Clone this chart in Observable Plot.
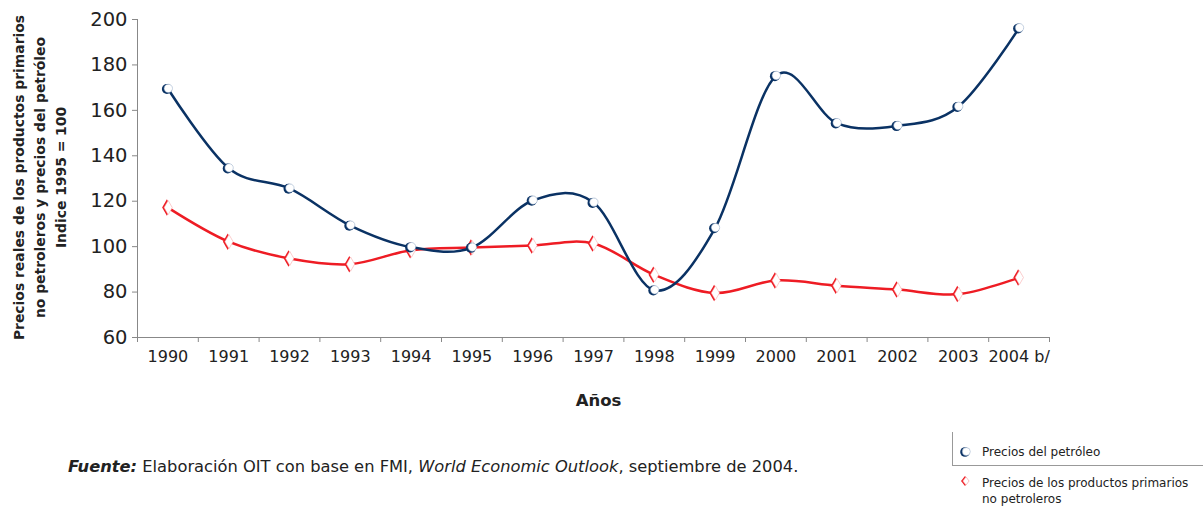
<!DOCTYPE html>
<html><head><meta charset="utf-8">
<script src="https://cdn.jsdelivr.net/npm/d3@7"></script>
<script src="https://cdn.jsdelivr.net/npm/@observablehq/plot@0.6"></script>
<style>
body{margin:0;background:#fff;font-family:"DejaVu Sans",Verdana,sans-serif;}
#wrap{position:relative;width:1203px;height:506px;overflow:hidden;}
#src{position:absolute;left:68px;top:457px;font-size:16.3px;color:#222;white-space:nowrap;}
#leg{position:absolute;left:952px;top:432px;width:260px;height:33px;border-left:1px solid #999;border-bottom:1px solid #999;}
.li{position:absolute;font-size:12px;color:#222;line-height:16px;}
</style></head>
<body><div id="wrap">
<div id="chart"></div>
<div id="src"><b><i>Fuente:</i></b> Elaboración OIT con base en FMI, <i>World Economic Outlook</i>, septiembre de 2004.</div>
<div id="leg"></div>
<svg style="position:absolute;left:958px;top:444px" width="18" height="48">
<circle cx="7" cy="8" r="4.8" fill="#0a3264"/><circle cx="8.3" cy="7.6" r="4" fill="#fff" stroke="#8ea6c4" stroke-width="0.5"/>
<path d="M3,37 L7,32 L11,37 L7,42 Z" fill="#ee1c24"/><path d="M4.8,37 L8,33 L11.2,37 L8,41 Z" fill="#fff" stroke="#f7a0a0" stroke-width="0.5"/>
</svg>
<div class="li" style="left:982px;top:444px">Precios del petróleo</div>
<div class="li" style="left:982px;top:475px">Precios de los productos primarios<br>no petroleros</div>
</div>
<script>
const years = [1990,1991,1992,1993,1994,1995,1996,1997,1998,1999,2000,2001,2002,2003,2004];
const yearLabels = ["1990","1991","1992","1993","1994","1995","1996","1997","1998","1999","2000","2001","2002","2003","2004 b/"];
const oil = [169.5,134.5,125.6,109.3,99.8,99.6,120.3,119.4,80.8,108.2,175.2,154.4,153.2,161.6,196.2];
const nonOil = [117.2,102.2,94.8,92.3,98.4,99.6,100.5,101.4,87.6,79.6,85.1,82.8,81.1,79.1,86.4];
const yTicks = [60,80,100,120,140,160,180,200];
const yTitle = "Precios reales de los productos primarios\nno petroleros y precios del petróleo\nIndice 1995 = 100";
const navy = "#0a3264", red = "#ee1c24";

const oilData = years.map((y,i)=>({year:y, v:oil[i]}));
const nonData = years.map((y,i)=>({year:y, v:nonOil[i]}));
const edges = [...years.map(y=>y-0.5), years[years.length-1]+0.5];

const chart = Plot.plot({
  width: 1203, height: 506,
  marginLeft: 137, marginRight: 154, marginTop: 19, marginBottom: 169,
  style: {fontFamily: "DejaVu Sans, Verdana, sans-serif", color: "#222", background: "transparent"},
  x: {type: "linear", domain: [1989.5, 2004.5], label: null},
  y: {domain: [60, 200], label: null},
  marks: [
    Plot.ruleY([60], {stroke: "#888"}),
    Plot.ruleX([1989.5], {stroke: "#888"}),
    Plot.axisX({ticks: edges, tickSize: 5, tickFormat: () => "", stroke: "#888", label: null}),
    Plot.axisX({ticks: years, tickSize: 0, tickPadding: 13, fontSize: 16, tickFormat: d => yearLabels[years.indexOf(d)], label: null}),
    Plot.axisY({ticks: yTicks, tickSize: 5, tickPadding: 5, fontSize: 19.5, stroke: "#888", label: null}),
    Plot.text([yTitle], {frameAnchor: "left", textAnchor: "middle", dx: -99, dy: -1, rotate: -90, fontWeight: "bold", fontSize: 13.9, lineHeight: 1.5, fill: "#222"}),
    Plot.text(["Años"], {frameAnchor: "bottom", dy: 68, dx: 5, fontWeight: "bold", fontSize: 16.5, fill: "#222"}),
    Plot.line(nonData, {x: "year", y: "v", stroke: red, strokeWidth: 2.5, curve: "cardinal", tension: 0}),
    Plot.line(oilData, {x: "year", y: "v", stroke: navy, strokeWidth: 2.5, curve: "cardinal", tension: 0}),
    Plot.dot(nonData, {x: "year", y: "v", symbol: "diamond", r: 5, fill: red, dx: -1}),
    Plot.dot(nonData, {x: "year", y: "v", symbol: "diamond", r: 4.3, fill: "#fff", stroke: "#f7a0a0", strokeWidth: 0.5, dx: 0.3}),
    Plot.dot(oilData, {x: "year", y: "v", r: 5, fill: navy, dx: -1, dy: 0.3}),
    Plot.dot(oilData, {x: "year", y: "v", r: 4.2, fill: "#fff", stroke: "#8ea6c4", strokeWidth: 0.5, dx: 0.4, dy: -0.4})
  ]
});
document.getElementById("chart").append(chart);
</script>
</body></html>
